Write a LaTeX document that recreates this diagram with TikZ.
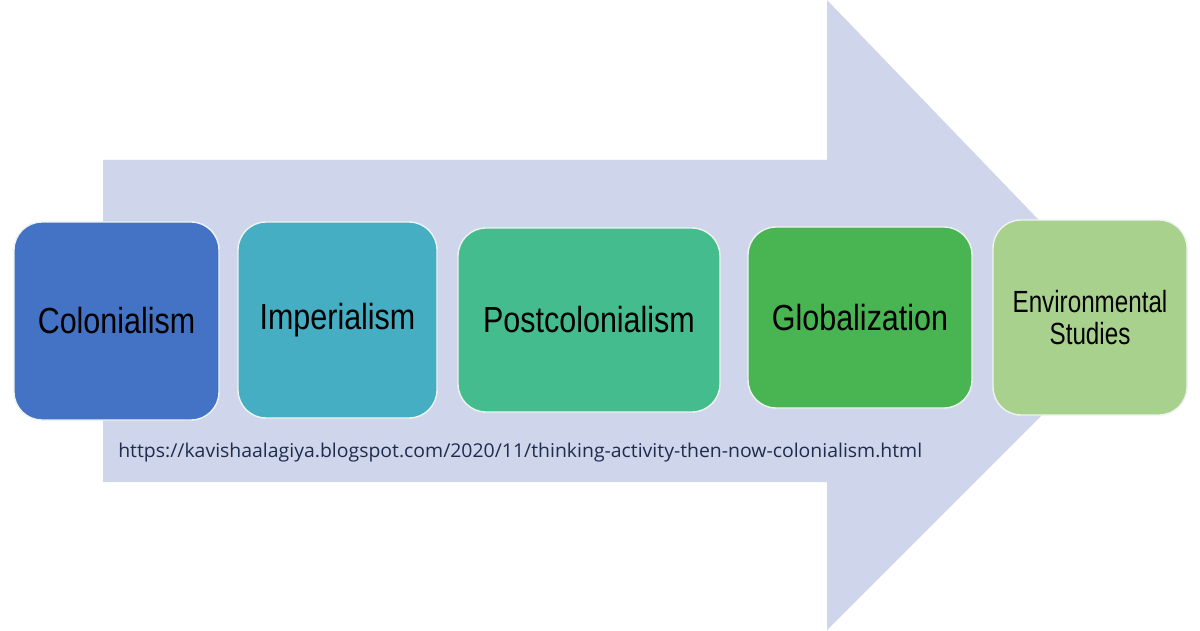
\documentclass[tikz,border=0pt]{standalone}
\usepackage{fontspec}
\usepackage{xcolor}
\usetikzlibrary{positioning}
\newfontfamily\erafont[FakeStretch=0.84]{Liberation Sans}
\newfontfamily\envfont[FakeStretch=0.79]{Liberation Sans}
\newfontfamily\urlfont[FakeStretch=1.02]{Open Sans}
\definecolor{flowarrow}{HTML}{CFD5EA}
\definecolor{colblue}{HTML}{4472C4}
\definecolor{impteal}{HTML}{45AEC2}
\definecolor{postgreen}{HTML}{45BC8D}
\definecolor{globgreen}{HTML}{48B452}
\definecolor{envgreen}{HTML}{A9D18E}
\definecolor{edgewhite}{HTML}{EEF4F2}
\definecolor{urltext}{HTML}{1F2D4D}

\begin{document}
\begin{tikzpicture}[
      era/.style={rectangle, rounded corners=0.7cm, draw=edgewhite, line width=1pt, text=black, align=center, inner sep=0pt, font=\erafont\fontsize{25.8}{28}\selectfont},
      envera/.style={era, font=\envfont\fontsize{21.8}{22.5}\selectfont},
    ]
    \useasboundingbox (0,0) rectangle (30,15.75);
    \fill[white] (0,0) rectangle (30,15.75);

    % big arrow behind the boxes
    \fill[flowarrow] (2.575,11.75) -- (20.675,11.75) -- (20.675,15.75) -- (28.4,7.725)
      -- (20.675,0) -- (20.675,3.7) -- (2.575,3.7) -- cycle;

    \node[era, fill=colblue, minimum width=5.125cm, minimum height=4.95cm] (colonial) at (2.9125,7.725) {Colonialism};
    \node[era, fill=impteal, minimum width=4.975cm, minimum height=4.9cm] (imperial) at (8.4375,7.75) {\raisebox{-2pt}{Imperialism}};
    \node[era, fill=postgreen, minimum width=6.55cm, minimum height=4.6cm] (postcol) at (14.725,7.75) {Postcolonialism};
    \node[era, fill=globgreen, minimum width=5.6cm, minimum height=4.525cm] (global) at (21.5,7.8125) {Globalization};
    \node[envera, fill=envgreen, minimum width=4.85cm, minimum height=4.875cm] (envstudies) at (27.25,7.8125) {Environmental\\Studies};

    \node[anchor=base west, inner sep=0pt, text=urltext, font=\urlfont\fontsize{13.55}{15}\selectfont] (source) at (2.95,4.325)
      {https://kavishaalagiya.blogspot.com/2020/11/thinking-activity-then-now-colonialism.html};
  \end{tikzpicture}
\end{document}
